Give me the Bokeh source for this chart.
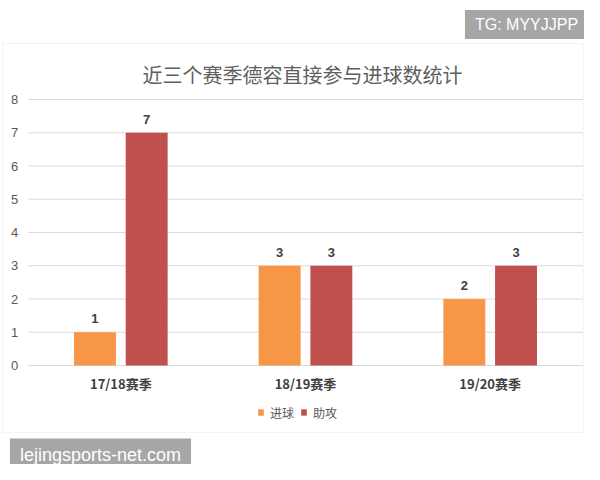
from bokeh.plotting import figure
from bokeh.models import (Range1d, Label, BoxAnnotation, ColumnDataSource, Legend, LegendItem)
from bokeh.core.properties import value
from bokeh.embed import file_html
from bokeh.resources import INLINE

# ---- data ----
seasons = ["17/18赛季", "18/19赛季", "19/20赛季"]
goals = [1, 3, 2]
assists = [7, 3, 3]
series_names = ["进球", "助攻"]
title_text = "近三个赛季德容直接参与进球数统计"
y_ticks = [0, 1, 2, 3, 4, 5, 6, 7, 8]
y_tick_labels = [str(t) for t in y_ticks]
watermark_top = "TG: MYYJJPP"
watermark_bottom = "lejingsports-net.com"

ORANGE = "#F79646"
RED = "#C0504D"
CJK = "Noto Sans CJK SC"
LAT = "Liberation Sans"

W, H = 584, 464
# pixel placement of the plotting area inside the figure
PL, PR = 28, 582      # x of first / last category edge
PT, PB = 99, 365      # y of value 8 / value 0
n = len(seasons)
ymax = y_ticks[-1]
cat_px = (PR - PL) / n
val_px = (PB - PT) / ymax

p = figure(width=W, height=H,
           x_range=Range1d(-PL / cat_px, n + (W - PR) / cat_px),
           y_range=Range1d(-(H - PB) / val_px, ymax + PT / val_px),
           output_backend="svg", toolbar_location=None, min_border=0)
p.axis.visible = False
p.grid.visible = False
p.outline_line_color = None
p.background_fill_color = "white"
p.border_fill_color = "white"

xc = [i + 0.5 for i in range(n)]
OFF = 0.14
BW = 0.227
src = ColumnDataSource(dict(season=seasons, x=xc, goals=goals, assists=assists,
                            xg=[x - OFF for x in xc], xa=[x + OFF for x in xc],
                            goals_t=[str(v) for v in goals],
                            assists_t=[str(v) for v in assists]))

# chart border
p.add_layout(BoxAnnotation(left=2, right=W - 1, top=H - 43, bottom=H - 432,
                           left_units="screen", right_units="screen",
                           top_units="screen", bottom_units="screen",
                           fill_color="white", fill_alpha=1,
                           line_color="#D9D9D9", line_width=1, level="underlay"))

# gridlines
p.segment(x0=[0] * len(y_ticks), x1=[n] * len(y_ticks), y0=y_ticks, y1=y_ticks,
          line_color="#D9D9D9", line_width=1)

# y tick labels
p.text(x=[0] * len(y_ticks), y=y_ticks, text=y_tick_labels, x_offset=-14,
       text_align="center", text_baseline="middle", text_font=value(LAT),
       text_font_size="13px", text_color="#595959")

# category labels
p.text(x="x", y=0, text="season", source=src, y_offset=18,
       text_align="center", text_baseline="middle", text_font=value(CJK),
       text_font_style="bold", text_font_size="13px", text_color="#404040")

r1 = p.vbar(x="xg", top="goals", width=BW, source=src, fill_color=ORANGE, line_color=None)
r2 = p.vbar(x="xa", top="assists", width=BW, source=src, fill_color=RED, line_color=None)

for xcol, col in (("xg", "goals"), ("xa", "assists")):
    p.text(x=xcol, y=col, text=col + "_t", source=src, y_offset=-9,
           text_align="center", text_baseline="bottom", text_font=value(LAT),
           text_font_style="bold", text_font_size="13px", text_color="#404040")

legend = Legend(items=[LegendItem(label=series_names[0], renderers=[r1]),
                       LegendItem(label=series_names[1], renderers=[r2])],
                orientation="horizontal", location=(257, H - 422),
                border_line_color=None, background_fill_alpha=0,
                padding=0, margin=0, spacing=6, label_standoff=6,
                glyph_width=7, glyph_height=8, label_height=20,
                label_text_font=CJK, label_text_font_size="12px",
                label_text_color="#595959")
p.add_layout(legend, "center")

# title
p.add_layout(Label(x=302, y=H - 74, x_units="screen", y_units="screen",
                   text=title_text, text_align="center", text_baseline="middle",
                   text_font=CJK, text_font_size="20px", text_color="#5F5F5F"))

# watermarks
p.add_layout(Label(x=526, y=H - 24, x_units="screen", y_units="screen",
                   text=watermark_top, text_align="center", text_baseline="middle",
                   text_font=LAT, text_font_size="16px", text_color="white",
                   background_fill_color="#A6A6A6", padding=(10, 6)))
p.add_layout(Label(x=100, y=H - 454, x_units="screen", y_units="screen",
                   text=watermark_bottom, text_align="center", text_baseline="middle",
                   text_font=LAT, text_font_size="18px", text_color="white",
                   background_fill_color="#A6A6A6", padding=(10, 6)))

open("out.html", "w").write(file_html(p, INLINE))
